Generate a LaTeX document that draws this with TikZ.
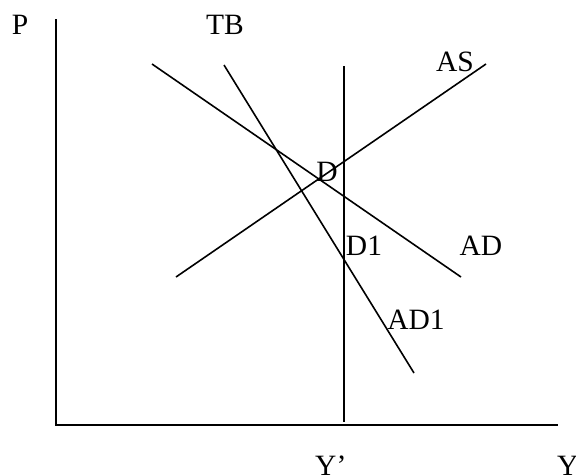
\documentclass[tikz,border=0pt]{standalone}
\usepackage{fontspec}
\setmainfont{Liberation Serif}
\begin{document}
\begin{tikzpicture}[x=1pt,y=-1pt,
  ln/.style={line width=1.6pt},
  lbl/.style={font=\fontsize{29.5}{32}\selectfont, inner sep=0pt}]
\useasboundingbox (0,0) rectangle (576,475);
% axes
\coordinate (ytop) at (56,19);
\coordinate (orig) at (56,425);
\coordinate (xend) at (558,425);
\draw[ln] (ytop) -- (orig) -- (xend);
% vertical Y' line
\coordinate (vtop) at (344,66);
\coordinate (vbot) at (344,422);
\draw[ln] (vtop) -- (vbot);
% AS
\coordinate (as1) at (176,277);
\coordinate (as2) at (486,64);
\draw[ln] (as1) -- (as2);
% AD
\coordinate (ad1) at (152,64);
\coordinate (ad2) at (461,277);
\draw[ln] (ad1) -- (ad2);
% AD1 / TB
\coordinate (tb1) at (224,65);
\coordinate (tb2) at (414,373);
\draw[ln] (tb1) -- (tb2);
% labels
\node[lbl] (P) at (20,25) {P};
\node[lbl] (TB) at (225,25) {TB};
\node[lbl] (AS) at (455,62) {AS};
\node[lbl] (D) at (327,172) {D};
\node[lbl] (D1) at (364,246) {D1};
\node[lbl] (AD) at (481,246) {AD};
\node[lbl] (AD1) at (416,320) {AD1};
\node[lbl, anchor=base west] (Yp) at (315,475) {Y’};
\node[lbl, anchor=base west] (Y) at (557,475) {Y};
\end{tikzpicture}
\end{document}
